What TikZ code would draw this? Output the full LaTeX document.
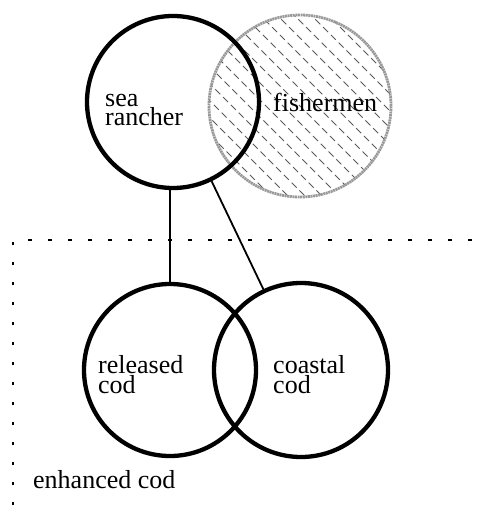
\documentclass[tikz,border=0pt]{standalone}
\usepackage{fontspec}
\setmainfont{Liberation Serif}
\begin{document}
\begin{tikzpicture}[x=1pt,y=-1pt,
  ring/.style={draw,circle,line width=4.3pt,inner sep=0pt},
  tag/.style={anchor=base west,align=left,inner sep=0pt,font=\fontsize{26}{15}\selectfont},
  link/.style={line width=1.8pt}]
  \useasboundingbox (0,0) rectangle (476,510);
  % fishermen, hatched grey
  \node[circle,minimum size=182pt,inner sep=0pt] (fishers) at (300,106) {};
  \begin{scope}
    \clip (fishers.center) circle (91pt);
    \foreach \k in {-221,-204,...,221}
      \draw[gray!70!black,line width=1pt,dash pattern=on 7pt off 4pt] (300+\k-110,-4) -- (300+\k+110,216);
  \end{scope}
  \draw[gray!80,line width=2.8pt,dash pattern=on 2pt off .6pt] (fishers.center) circle (91pt);
  % the three black rings
  \node[ring,minimum size=172pt] (rancher) at (173,102) {};
  \node[ring,minimum size=172pt] (released) at (170,370) {};
  \node[ring,minimum size=174pt] (coastal) at (301,370) {};
  % labels (base = last line)
  \node[tag] (ranchertxt) at (105,126) {sea\\rancher};
  \node[tag] (fisherstxt) at (273,112) {fishermen};
  \node[tag] (releasedtxt) at (98,393) {released\\cod};
  \node[tag] (coastaltxt) at (273,393) {coastal\\cod};
  \node[tag] (enhancedtxt) at (33,488) {enhanced cod};
  % links
  \draw[link] (released.north) -- (released.north |- rancher.south);
  \draw[link] (rancher.-64) -- (coastal.115);
  % enhanced cod region
  \draw[line width=1.3pt,dash pattern=on 3.5pt off 16.5pt] (13,505) -- (13,240) -- (476,240);
\end{tikzpicture}
\end{document}
